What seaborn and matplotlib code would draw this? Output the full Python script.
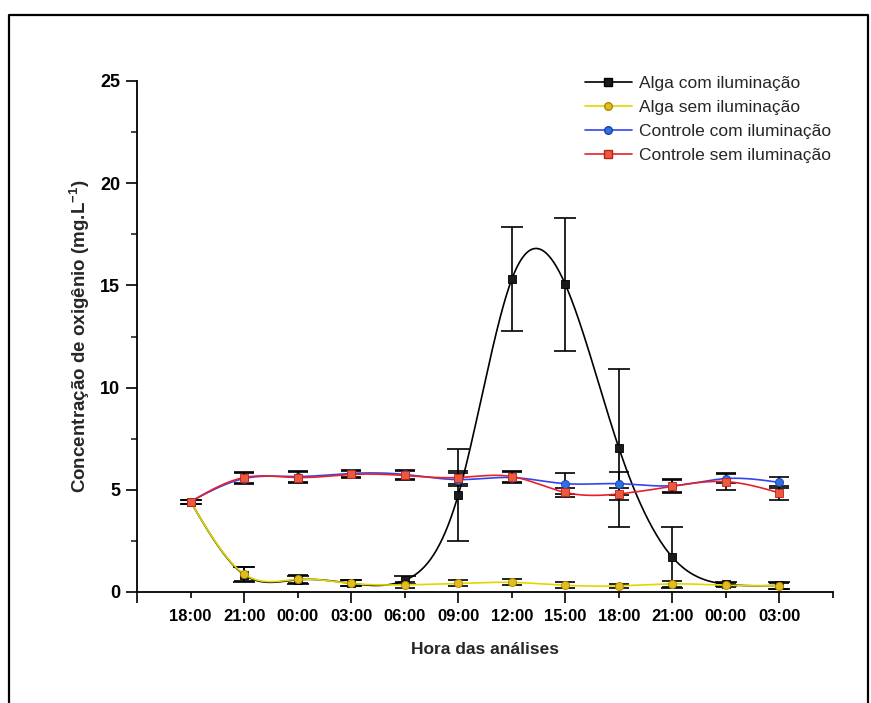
import numpy as np
import pandas as pd
import matplotlib
matplotlib.use("Agg")
import matplotlib.pyplot as plt
from matplotlib.lines import Line2D
import seaborn as sns

# ---------------- data ----------------
hours = ["18:00", "21:00", "00:00", "03:00", "06:00", "09:00",
         "12:00", "15:00", "18:00", "21:00", "00:00", "03:00"]
alga_luz = [4.42, 0.85, 0.60, 0.42, 0.57, 4.75, 15.30, 15.05, 7.05, 1.70, 0.38, 0.32]
alga_luz_err = [0.10, 0.35, 0.20, 0.15, 0.20, 2.25, 2.55, 3.25, 3.85, 1.50, 0.10, 0.15]
alga_esc = [4.42, 0.88, 0.62, 0.42, 0.35, 0.42, 0.47, 0.33, 0.30, 0.40, 0.33, 0.30]
alga_esc_err = [0.10, 0.35, 0.20, 0.15, 0.15, 0.15, 0.15, 0.15, 0.10, 0.15, 0.10, 0.15]
ctrl_luz = [4.42, 5.55, 5.65, 5.80, 5.75, 5.50, 5.60, 5.30, 5.30, 5.20, 5.55, 5.36]
ctrl_luz_err = [0.10, 0.25, 0.25, 0.15, 0.20, 0.30, 0.25, 0.50, 0.55, 0.35, 0.20, 0.28]
ctrl_esc = [4.42, 5.60, 5.60, 5.75, 5.70, 5.60, 5.65, 4.87, 4.80, 5.17, 5.40, 4.85]
ctrl_esc_err = [0.10, 0.25, 0.25, 0.15, 0.20, 0.30, 0.25, 0.20, 0.30, 0.30, 0.40, 0.33]
series_names = ["Alga com iluminação", "Alga sem iluminação",
                "Controle com iluminação", "Controle sem iluminação"]


def natural_spline(x, y, n=600):
    """Smooth connecting curve (Origin-style spline line) through the data."""
    x = np.asarray(x, float)
    y = np.asarray(y, float)
    m = len(x)
    h = np.diff(x)
    A = np.zeros((m, m))
    b = np.zeros(m)
    A[0, 0] = 1
    A[-1, -1] = 1
    for i in range(1, m - 1):
        A[i, i - 1] = h[i - 1]
        A[i, i] = 2 * (h[i - 1] + h[i])
        A[i, i + 1] = h[i]
        b[i] = 3 * ((y[i + 1] - y[i]) / h[i] - (y[i] - y[i - 1]) / h[i - 1])
    c = np.linalg.solve(A, b)
    xs = np.linspace(x[0], x[-1], n)
    idx = np.clip(np.searchsorted(x, xs) - 1, 0, m - 2)
    dx = xs - x[idx]
    bc = (y[1:] - y[:-1]) / h - h * (2 * c[:-1] + c[1:]) / 3
    dc = (c[1:] - c[:-1]) / (3 * h)
    ys = y[idx] + bc[idx] * dx + c[idx] * dx ** 2 + dc[idx] * dx ** 3
    return xs, ys


sns.set_style("ticks")
plt.rcParams["font.family"] = ["Liberation Sans", "DejaVu Sans"]
plt.rcParams["mathtext.fontset"] = "custom"
plt.rcParams["mathtext.rm"] = "Liberation Sans:bold"
plt.rcParams["mathtext.default"] = "rm"

fig = plt.figure(figsize=(8.71, 7.03), dpi=100)
ax = fig.add_axes([137 / 871, 1 - 592 / 703, 696 / 871, 511 / 703])

xpos = np.arange(len(hours))
styles = [
    (alga_luz, alga_luz_err, "#000000", "s", "#1a1a1a", "#000000", 8),
    (alga_esc, alga_esc_err, "#e2d600", "o", "#e3bd1c", "#a88a00", 7),
    (ctrl_luz, ctrl_luz_err, "#3344ee", "o", "#2f6fe0", "#1a3fb0", 7),
    (ctrl_esc, ctrl_esc_err, "#e8202a", "s", "#ea5a3c", "#c02020", 7),
]

handles = []
for k, (vals, errs, lc, mk, mfc, mec, cap) in enumerate(styles):
    ax.errorbar(xpos, vals, yerr=errs, fmt="none", ecolor="black",
                elinewidth=1.2, capsize=cap, capthick=1.2, zorder=2 + k * 0.1)
for k, (vals, errs, lc, mk, mfc, mec, cap) in enumerate(styles):
    xs, ys = natural_spline(xpos, vals)
    sns.lineplot(x=xs, y=ys, color=lc, linewidth=1.2, ax=ax, zorder=3 + k,
                 sort=False, estimator=None)
    df = pd.DataFrame({"x": xpos, "y": vals})
    sns.scatterplot(data=df, x="x", y="y", marker=mk, color=mfc,
                    edgecolor=mec, linewidth=0.6, s=34, ax=ax, zorder=3.5 + k)
    handles.append(Line2D([0], [0], color=lc, lw=1.2, marker=mk,
                          markerfacecolor=mfc, markeredgecolor=mec,
                          markersize=5.5))

ax.set_xlim(-1, 12)
ax.set_ylim(0, 25)
sns.despine(ax=ax)
for s in ["left", "bottom"]:
    ax.spines[s].set_linewidth(1.3)
    ax.spines[s].set_color("black")

# y ticks
ax.set_yticks([0, 5, 10, 15, 20, 25])
ax.set_yticks(np.arange(0, 25.1, 2.5), minor=True)
ax.tick_params(axis="y", which="major", length=8, width=1.2, direction="out",
               labelsize=13, pad=4, colors="black")
ax.tick_params(axis="y", which="minor", length=4, width=1.2, direction="out")

# x ticks: alternating long/short ticks, all hours labelled
maj = [-1, 1, 3, 5, 7, 9, 11]
mino = [0, 2, 4, 6, 8, 10, 12]
ax.set_xticks(maj, [""] + hours[1::2])
ax.set_xticks(mino, hours[0::2] + [""], minor=True)
ax.tick_params(axis="x", which="major", length=8, width=1.2, direction="out",
               labelsize=12, pad=4, colors="black")
ax.tick_params(axis="x", which="minor", length=4, width=1.2, direction="out",
               labelsize=12, pad=8, colors="black")
for lab in ax.get_xticklabels(which="both") + ax.get_yticklabels():
    lab.set_fontweight("bold")

ax.set_xlabel("Hora das análises", fontsize=12.5, fontweight="bold", labelpad=13)
ax.set_ylabel(r"Concentração de oxigênio (mg.L$^{-1}$)", fontsize=13.5,
              fontweight="bold", labelpad=6)

leg = ax.legend(handles, series_names, loc="upper left",
                bbox_to_anchor=(585 / 871, 1 - 76 / 703),
                bbox_transform=fig.transFigure, frameon=False,
                fontsize=12.5, handlelength=2.7, handletextpad=0.4,
                labelspacing=0.5, borderpad=0, borderaxespad=0)

# outer frame of the scanned page
fx0, fx1, fy1 = 9 / 871, 868 / 871, 1 - 15 / 703
fig.add_artist(Line2D([fx0, fx0, fx1, fx1], [-0.01, fy1, fy1, -0.01],
                      transform=fig.transFigure, color="black", lw=1.6))

fig.savefig("out.png", dpi=100)
